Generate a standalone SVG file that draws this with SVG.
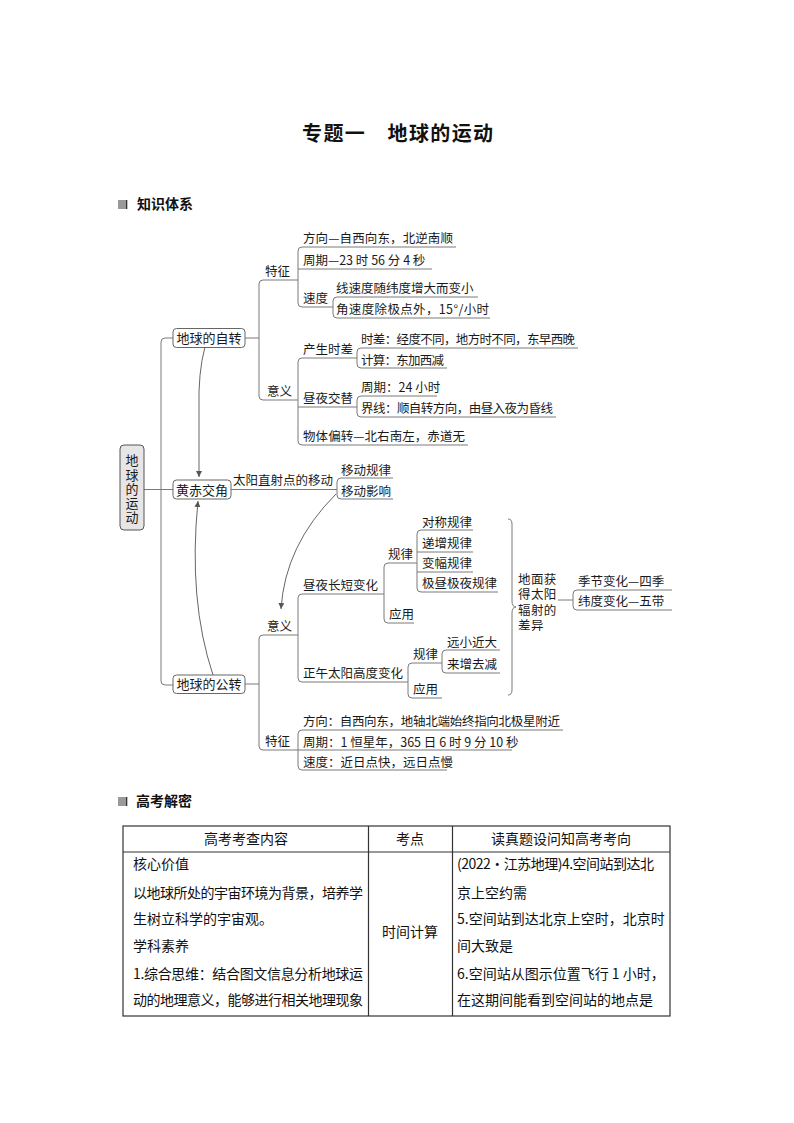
<svg xmlns="http://www.w3.org/2000/svg" width="794" height="1123" viewBox="0 0 794 1123">
<style>
.t{font-family:"Noto Sans CJK SC","Noto Sans",sans-serif;font-size:12.5px;fill:#1a1a1a}
.bt{font-family:"Noto Sans CJK SC","Noto Sans",sans-serif;font-size:13px;fill:#1a1a1a;text-anchor:middle}
.tt{font-family:"Noto Sans CJK SC","Noto Sans",sans-serif;font-size:14px;fill:#111}
.tc{text-anchor:middle}
.h{font-family:"Noto Sans CJK SC","Noto Sans",sans-serif;font-weight:700;fill:#111}
.ln{fill:none;stroke:#7a7a7a;stroke-width:1}
.box{fill:#fff;stroke:#666;stroke-width:1}
.tb{fill:none;stroke:#333;stroke-width:1.2}
.arr{fill:none;stroke:#666;stroke-width:1}
.vt{writing-mode:vertical-rl;text-orientation:upright}
</style>
<defs>
<marker id="ah" markerWidth="8" markerHeight="8" refX="6" refY="3" orient="auto" markerUnits="userSpaceOnUse">
<path d="M0,0 L6,3 L0,6 z" fill="#555"/>
</marker>
</defs>
<rect width="794" height="1123" fill="#fff"/>

<text class="h" x="302" y="141" font-size="20" textLength="191">专题一　地球的运动</text>

<g id="sec1">
<rect x="118" y="200" width="7" height="9" fill="#9a9a9a"/>
<rect x="125.5" y="200" width="1.8" height="9" fill="#333"/>
<text class="h" x="137" y="209" font-size="14">知识体系</text>
</g>

<g id="connectors">
<path class="ln" d="M144 489.5 H173"/>
<path class="ln" d="M173 338 H165 Q161 338 161 342 V681 Q161 685 165 685 H173"/>
<path class="ln" d="M245 338 H259"/>
<path class="ln" d="M298 280 H263 Q259 280 259 284 V396 Q259 400 263 400 H298"/>
<path class="ln" d="M456 247 H302 Q298 247 298 251 V303 Q298 307 302 307 H333"/>
<path class="ln" d="M298 269 H432"/>
<path class="ln" d="M478 297 H337 Q333 297 333 301 V314 Q333 318 337 318 H490"/>
<path class="ln" d="M357 358 H302 Q298 358 298 362 V441 Q298 445 302 445 H468"/>
<path class="ln" d="M298 407 H357"/>
<path class="ln" d="M578 348 H361 Q357 348 357 352 V364 Q357 368 361 368 H447"/>
<path class="ln" d="M437 396 H361 Q357 396 357 400 V413 Q357 417 361 417 H556"/>
<path class="ln" d="M231 489.5 H337"/>
<path class="ln" d="M393 478 H341 Q337 478 337 482 V495 Q337 499 341 499 H393"/>
<path class="ln" d="M245 684 H259"/>
<path class="ln" d="M298 635 H263 Q259 635 259 639 V746 Q259 750 263 750 H298"/>
<path class="ln" d="M384 594 H302 Q298 594 298 598 V678 Q298 682 302 682 H408"/>
<path class="ln" d="M417 563 H388 Q384 563 384 567 V619 Q384 623 388 623 H414"/>
<path class="ln" d="M473 530 H421 Q417 530 417 534 V588 Q417 592 421 592 H498"/>
<path class="ln" d="M417 552 H473 M417 572 H473"/>
<path class="ln" d="M442 663 H412 Q408 663 408 667 V694 Q408 698 412 698 H442"/>
<path class="ln" d="M500 650 H446 Q442 650 442 654 V669 Q442 673 446 673 H500"/>
<path class="ln" d="M563 730 H302 Q298 730 298 734 V766 Q298 770 302 770 H447"/>
<path class="ln" d="M298 750 H512"/>
<path class="ln" d="M508 519 Q512 519 512 524 V601 Q512 607 516 607 Q512 607 512 613 V690 Q512 695 508 695"/>
<path class="ln" d="M558 600 H573"/>
<path class="ln" d="M672 590 H577 Q573 590 573 594 V606 Q573 610 577 610 H672"/>
<path class="arr" d="M205 347 Q198 372 199 410 L199 477" marker-end="url(#ah)"/>
<path class="arr" d="M213 675 Q188 600 198 501" marker-end="url(#ah)"/>
<path class="arr" d="M336 494 Q285 545 281 609" marker-end="url(#ah)"/>
</g>

<g id="root">
<rect x="120" y="445" width="24" height="85" rx="4" fill="#e6e6e6" stroke="#555"/>
<text class="bt vt" x="132" y="489.5" font-size="14.5" letter-spacing="1.2">地球的运动</text>
</g>

<g id="n-rotation">
<rect class="box" x="173" y="328.5" width="72" height="19" rx="3.5"/>
<text class="bt" x="209" y="343">地球的自转</text>
</g>
<g id="n-obliquity">
<rect class="box" x="173" y="480" width="58" height="19" rx="3.5"/>
<text class="bt" x="202" y="494.5">黄赤交角</text>
</g>
<g id="n-revolution">
<rect class="box" x="173" y="675" width="72" height="18.5" rx="3.5"/>
<text class="bt" x="209" y="689">地球的公转</text>
</g>

<g id="rot-feature">
<text class="t" x="265" y="276">特征</text>
<text class="t" x="303" y="243" textLength="150">方向—自西向东，北逆南顺</text>
<text class="t" x="303" y="265">周期—23 时 56 分 4 秒</text>
<text class="t" x="303" y="303">速度</text>
<text class="t" x="336" y="293">线速度随纬度增大而变小</text>
<text class="t" x="336" y="314" textLength="153">角速度除极点外，15°/小时</text>
</g>
<g id="rot-meaning">
<text class="t" x="267" y="396">意义</text>
<text class="t" x="303" y="354">产生时差</text>
<text class="t" x="361" y="344" textLength="214">时差：经度不同，地方时不同，东早西晚</text>
<text class="t" x="361" y="365" textLength="83">计算：东加西减</text>
<text class="t" x="303" y="403">昼夜交替</text>
<text class="t" x="361" y="392">周期：24 小时</text>
<text class="t" x="361" y="413" textLength="192">界线：顺自转方向，由昼入夜为昏线</text>
<text class="t" x="303" y="441" textLength="162">物体偏转—北右南左，赤道无</text>
</g>
<g id="obl-children">
<text class="t" x="233" y="485" textLength="100">太阳直射点的移动</text>
<text class="t" x="341" y="475">移动规律</text>
<text class="t" x="341" y="496">移动影响</text>
</g>
<g id="rev-meaning">
<text class="t" x="267" y="631">意义</text>
<text class="t" x="303" y="590">昼夜长短变化</text>
<text class="t" x="388" y="559">规律</text>
<text class="t" x="422" y="527">对称规律</text>
<text class="t" x="422" y="548">递增规律</text>
<text class="t" x="422" y="568">变幅规律</text>
<text class="t" x="422" y="588">极昼极夜规律</text>
<text class="t" x="389" y="619">应用</text>
<text class="t" x="303" y="678">正午太阳高度变化</text>
<text class="t" x="413" y="659">规律</text>
<text class="t" x="447" y="647">远小近大</text>
<text class="t" x="447" y="669">来增去减</text>
<text class="t" x="413" y="694">应用</text>
</g>
<g id="difference">
<text class="t" font-size="12" letter-spacing="0.4"><tspan x="518" y="583.5">地面获</tspan><tspan x="518" y="599">得太阳</tspan><tspan x="518" y="614.5">辐射的</tspan><tspan x="518" y="630">差异</tspan></text>
<text class="t" x="578" y="586">季节变化—四季</text>
<text class="t" x="578" y="606">纬度变化—五带</text>
</g>
<g id="rev-feature">
<text class="t" x="265" y="746">特征</text>
<text class="t" x="303" y="726" textLength="257">方向：自西向东，地轴北端始终指向北极星附近</text>
<text class="t" x="303" y="747">周期：1 恒星年，365 日 6 时 9 分 10 秒</text>
<text class="t" x="303" y="767">速度：近日点快，远日点慢</text>
</g>

<g id="sec2">
<rect x="118" y="797" width="7" height="9" fill="#9a9a9a"/>
<rect x="125.5" y="797" width="1.8" height="9" fill="#333"/>
<text class="h" x="136" y="806" font-size="14">高考解密</text>
</g>

<g id="table">
<rect class="tb" x="123" y="826" width="547" height="190"/>
<path class="tb" d="M368.5 826 V1016 M452.5 826 V1016 M123 852 H670"/>
<text class="tt tc" x="246" y="844">高考考查内容</text>
<text class="tt tc" x="410" y="844">考点</text>
<text class="tt tc" x="561" y="844">读真题设问知高考考向</text>
<text class="tt" x="133" y="869">核心价值</text>
<text class="tt" x="133" y="898" textLength="230">以地球所处的宇宙环境为背景，培养学</text>
<text class="tt" x="133" y="924">生树立科学的宇宙观。</text>
<text class="tt" x="133" y="951">学科素养</text>
<text class="tt" x="133" y="979" textLength="230">1.综合思维：结合图文信息分析地球运</text>
<text class="tt" x="133" y="1005" textLength="230">动的地理意义，能够进行相关地理现象</text>
<text class="tt tc" x="410" y="937">时间计算</text>
<text class="tt" x="457" y="869" textLength="197">(2022·江苏地理)4.空间站到达北</text>
<text class="tt" x="457" y="898">京上空约需</text>
<text class="tt" x="457" y="924">5.空间站到达北京上空时，北京时</text>
<text class="tt" x="457" y="951">间大致是</text>
<text class="tt" x="457" y="979">6.空间站从图示位置飞行 1 小时，</text>
<text class="tt" x="457" y="1005">在这期间能看到空间站的地点是</text>
</g>
</svg>
